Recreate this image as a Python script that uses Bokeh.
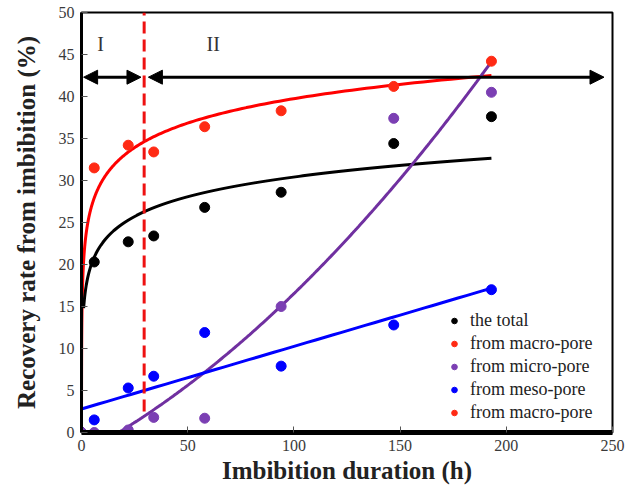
import numpy as np
from bokeh.plotting import figure
from bokeh.models import (Range1d, FixedTicker, Legend, LegendItem, Arrow, NormalHead,
                          ColumnDataSource, Label)
from bokeh.embed import file_html
from bokeh.resources import INLINE

# ---- data ----
hours = [0, 6, 22, 34, 58, 94, 147, 193]
total = [0, 20.3, 22.7, 23.4, 26.8, 28.6, 34.4, 37.6]
macro = [0, 31.5, 34.2, 33.4, 36.4, 38.3, 41.2, 44.2]
micro = [0, 0, 0.3, 1.8, 1.7, 15.0, 37.4, 40.5]
meso = [0, 1.5, 5.3, 6.7, 11.9, 7.9, 12.8, 17.0]

# fitted trend parameters
macro_fit = (20.4, 4.2)        # a + b ln(t)
total_fit = (14.8, 3.39)       # a + b ln(t)
micro_fit = (17.5, 0.155, 0.00055)  # c (t - t0) + d (t - t0)^2 from t0
meso_fit = (2.8, 0.0745)       # a + b t
fit_end = 193

stage_boundary = 29.5
stage_arrow_y = 42.3
stage_arrows = [(1, 28), (31.5, 246)]
stage_labels = ["I", "II"]
stage_label_x = [9, 62]
stage_label_y = 46.2

x_ticks = [0, 50, 100, 150, 200, 250]
y_ticks = [0, 5, 10, 15, 20, 25, 30, 35, 40, 45, 50]

RED = "#ff0000"
RED_PT = "#ff2a14"
PURPLE = "#7030a0"
PURPLE_PT = "#7b3fb3"
BLUE = "#0000ff"
SERIF = "Liberation Serif"

p = figure(width=628, height=486, output_backend="svg", toolbar_location=None,
           x_range=Range1d(0, 250), y_range=Range1d(0, 50),
           min_border_left=81, min_border_right=16, min_border_top=12, min_border_bottom=54)
p.background_fill_color = "white"
p.border_fill_color = "white"
p.outline_line_color = "black"
p.outline_line_width = 2
p.grid.visible = False

for ax in (p.xaxis[0], p.yaxis[0]):
    ax.major_label_text_font = SERIF
    ax.major_label_text_font_size = "16px"
    ax.major_label_text_color = "#3a3a3a"
    ax.axis_label_text_font = SERIF
    ax.axis_label_text_font_style = "bold"
    ax.axis_label_text_color = "#222222"
    ax.minor_tick_line_color = None
    ax.major_tick_out = 0
    ax.major_tick_in = 6
    ax.major_tick_line_color = "#555555"
    ax.axis_line_color = "black"

p.xaxis.ticker = FixedTicker(ticks=x_ticks)
p.yaxis.ticker = FixedTicker(ticks=y_ticks)
p.xaxis.axis_label = "Imbibition duration (h)"
p.yaxis.axis_label = "Recovery rate from imbibition (%)"
p.xaxis.axis_label_text_font_size = "25px"
p.yaxis.axis_label_text_font_size = "25px"
p.xaxis.axis_line_width = 5
p.yaxis.axis_line_width = 3
p.xaxis.major_label_standoff = 7
p.xaxis.axis_label_standoff = 3
p.yaxis.major_label_standoff = 7
p.yaxis.axis_label_standoff = 16

# ---- fitted curves ----
t_log = np.geomspace(0.006, fit_end, 400)
p.line(t_log, macro_fit[0] + macro_fit[1] * np.log(t_log), line_color=RED, line_width=3)
t_log2 = np.geomspace(1.0, fit_end, 300)
p.line(t_log2, total_fit[0] + total_fit[1] * np.log(t_log2), line_color="black", line_width=3)
t_lin = np.linspace(micro_fit[0], fit_end, 200)
p.line(t_lin, micro_fit[1] * (t_lin - micro_fit[0]) + micro_fit[2] * (t_lin - micro_fit[0]) ** 2,
       line_color=PURPLE, line_width=3)
t_m = np.linspace(0, fit_end, 50)
p.line(t_m, meso_fit[0] + meso_fit[1] * t_m, line_color=BLUE, line_width=3)

# stage divider
p.segment(x0=[stage_boundary], y0=[2.5], x1=[stage_boundary], y1=[50],
          line_color="#ee1111", line_width=3, line_dash="12 6")

# stage arrows
for (xa, xb) in stage_arrows:
    p.add_layout(Arrow(x_start=xa, y_start=stage_arrow_y, x_end=xb, y_end=stage_arrow_y,
                       line_color="black", line_width=3,
                       start=NormalHead(size=14, fill_color="black", line_color="black"),
                       end=NormalHead(size=14, fill_color="black", line_color="black")))

for lab, lx in zip(stage_labels, stage_label_x):
    p.add_layout(Label(x=lx, y=stage_label_y, text=lab, text_font=SERIF, text_font_size="20px",
                       text_color="#333333", text_align="center", text_baseline="middle"))

# ---- data points ----
src = ColumnDataSource(dict(t=hours, total=total, macro=macro, micro=micro, meso=meso))
r_total = p.scatter("t", "total", source=src, size=10, color="black")
r_macro = p.scatter("t", "macro", source=src, size=10, color=RED_PT)
r_meso = p.scatter("t", "meso", source=src, size=10, color=BLUE)
r_micro = p.scatter("t", "micro", source=src, size=10, color=PURPLE_PT)

legend = Legend(items=[
    LegendItem(label="the total", renderers=[r_total]),
    LegendItem(label="from macro-pore", renderers=[r_macro]),
    LegendItem(label="from micro-pore", renderers=[r_micro]),
    LegendItem(label="from meso-pore", renderers=[r_meso]),
    LegendItem(label="from macro-pore", renderers=[r_macro]),
], location=(366, 9))
legend.label_text_font = SERIF
legend.label_text_font_size = "18px"
legend.label_text_color = "#222222"
legend.border_line_alpha = 0
legend.background_fill_alpha = 0
legend.padding = 0
legend.margin = 0
legend.glyph_width = 14
legend.glyph_height = 19
legend.label_height = 19
legend.spacing = 2
legend.label_standoff = 9
p.add_layout(legend)

open("out.html", "w").write(file_html(p, INLINE))
